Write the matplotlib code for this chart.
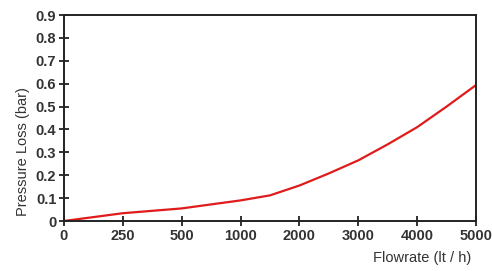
import numpy as np
import matplotlib.pyplot as plt

# tick labels on x are evenly spaced although values are not
x_ticks = [0, 250, 500, 1000, 2000, 3000, 4000, 5000]
y_ticks = [0, 0.1, 0.2, 0.3, 0.4, 0.5, 0.6, 0.7, 0.8, 0.9]

# curve
flow = [0, 250, 500, 1000, 1500, 2000, 2500, 3000, 3500, 4000, 4500, 5000]
loss = [0.0, 0.034, 0.055, 0.09, 0.112, 0.155, 0.208, 0.265, 0.335, 0.41, 0.50, 0.594]

# piecewise-linear scale: flowrate -> evenly spaced tick position
tick_pos = np.arange(len(x_ticks))
xpos = np.interp(flow, x_ticks, tick_pos)

plt.rcParams['font.family'] = ['Liberation Sans', 'DejaVu Sans']
fig = plt.figure(figsize=(4.92, 2.71), dpi=100)
ax = fig.add_axes([0.130, 0.1845, 0.8375, 0.760])

ax.plot(xpos, loss, color='#e01b1b', lw=1.6, solid_capstyle='round')

ax.set_xlim(0, tick_pos[-1])
ax.set_ylim(0, 0.9)
ax.set_xticks(tick_pos)
ax.set_xticklabels([str(v) for v in x_ticks])
ax.set_yticks(y_ticks)
ax.set_yticklabels(['0'] + ['%.1f' % v for v in y_ticks[1:]])

for s in ax.spines.values():
    s.set_linewidth(1.4)
    s.set_color('#222222')
ax.tick_params(direction='inout', length=7, width=1.3, color='#222222',
               labelsize=10.5, labelcolor='#333333', pad=2)
for lab in ax.get_xticklabels() + ax.get_yticklabels():
    lab.set_fontweight('bold')

fig.text(23 / 492, 1 - 152 / 271, 'Pressure Loss (bar)', rotation=90,
         ha='center', va='center', fontsize=10.5, color='#333333')
fig.text(471 / 492, 1 - 258 / 271, 'Flowrate (lt / h)', ha='right', va='center',
         fontsize=10.5, color='#333333')

fig.savefig('out.png', dpi=100)
